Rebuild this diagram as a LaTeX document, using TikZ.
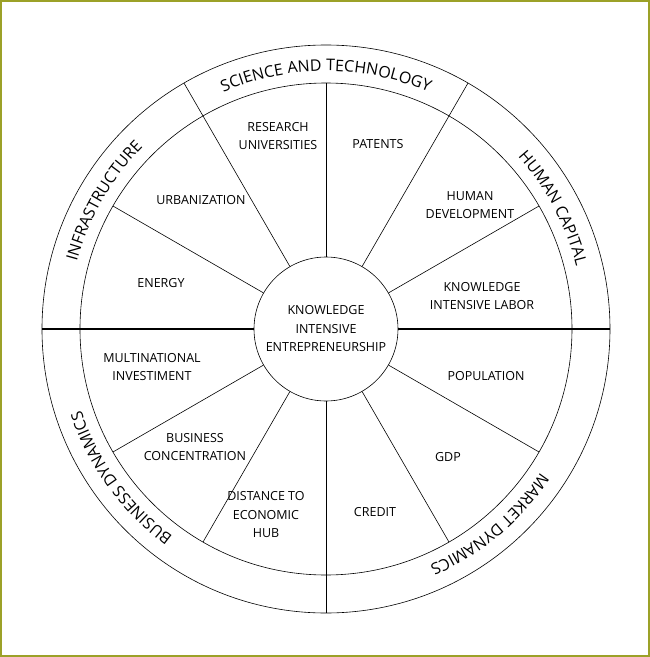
\documentclass[tikz,border=0pt]{standalone}
\usepackage{fontspec}
\setmainfont{Open Sans}
\usetikzlibrary{positioning, decorations.text}
\definecolor{frameolive}{HTML}{9CA128}
\tikzset{
    spoke/.style={black, line width=0.6pt},
    axis/.style={black, line width=1.8pt},
    factor/.style={align=center, font=\fontsize{12.5}{18.5}\selectfont},
    ringtext/.style={decorate, decoration={text along path, text align=center,
        text={|\fontsize{16}{18}\selectfont|#1}}}
}
\begin{document}
\begin{tikzpicture}[x=1pt, y=1pt]
    \def\rout{284}
    \def\rin{246}
    \def\rtxt{258}
    \useasboundingbox (-326,-328) rectangle (324,329);
    \draw[frameolive, line width=2pt] (-325,-327) rectangle (323,328);

    % circles
    \draw[spoke] (0,0) circle (\rout);
    \draw[spoke] (0,0) circle (\rin);
    \node[circle, draw, line width=0.6pt, minimum size=144pt, inner sep=0pt,
        factor] (hub) at (0,0) {KNOWLEDGE\\INTENSIVE\\ENTREPRENEURSHIP};

    % spokes
    \foreach \a in {30,60,90,120,150,210,240,270,300,330}
    {
        \draw[spoke] (hub.\a) -- (\a:\rin);
    }
    \draw[axis] (hub.0) -- (0:\rout);
    \draw[axis] (hub.180) -- (180:\rout);

    % ring borders
    \foreach \a in {60,120,270}
    {
        \draw[spoke] (\a:\rin) -- (\a:\rout);
    }

    % ring labels
    \path[ringtext={SCIENCE AND TECHNOLOGY}] (140:\rtxt) arc[start angle=140, end angle=40, radius=\rtxt];
    \path[ringtext={INFRASTRUCTURE}] (190:\rtxt) arc[start angle=190, end angle=110, radius=\rtxt];
    \path[ringtext={HUMAN CAPITAL}] (68:\rtxt) arc[start angle=68, end angle=-12, radius=\rtxt];
    \path[ringtext={MARKET DYNAMICS}] (-5:\rtxt) arc[start angle=-5, end angle=-95, radius=\rtxt];
    \path[ringtext={BUSINESS DYNAMICS}] (262:\rtxt) arc[start angle=262, end angle=170, radius=\rtxt];

    % factors
    \node[factor] (research) at (-48,193) {RESEARCH\\UNIVERSITIES};
    \node[factor] (patents) at (52,185) {PATENTS};
    \node[factor] (humandev) at (144,124) {HUMAN\\DEVELOPMENT};
    \node[factor] (labor) at (156,33) {KNOWLEDGE\\INTENSIVE LABOR};
    \node[factor] (population) at (160,-47) {POPULATION};
    \node[factor] (gdp) at (122,-128) {GDP};
    \node[factor] (credit) at (49,-183) {CREDIT};
    \node[factor] (distance) at (-60,-186) {DISTANCE TO\\ECONOMIC\\HUB};
    \node[factor] (business) at (-131,-118) {BUSINESS\\CONCENTRATION};
    \node[factor] (multinational) at (-174,-38) {MULTINATIONAL\\INVESTIMENT};
    \node[factor] (energy) at (-165,46) {ENERGY};
    \node[factor] (urban) at (-125,129) {URBANIZATION};
\end{tikzpicture}
\end{document}
